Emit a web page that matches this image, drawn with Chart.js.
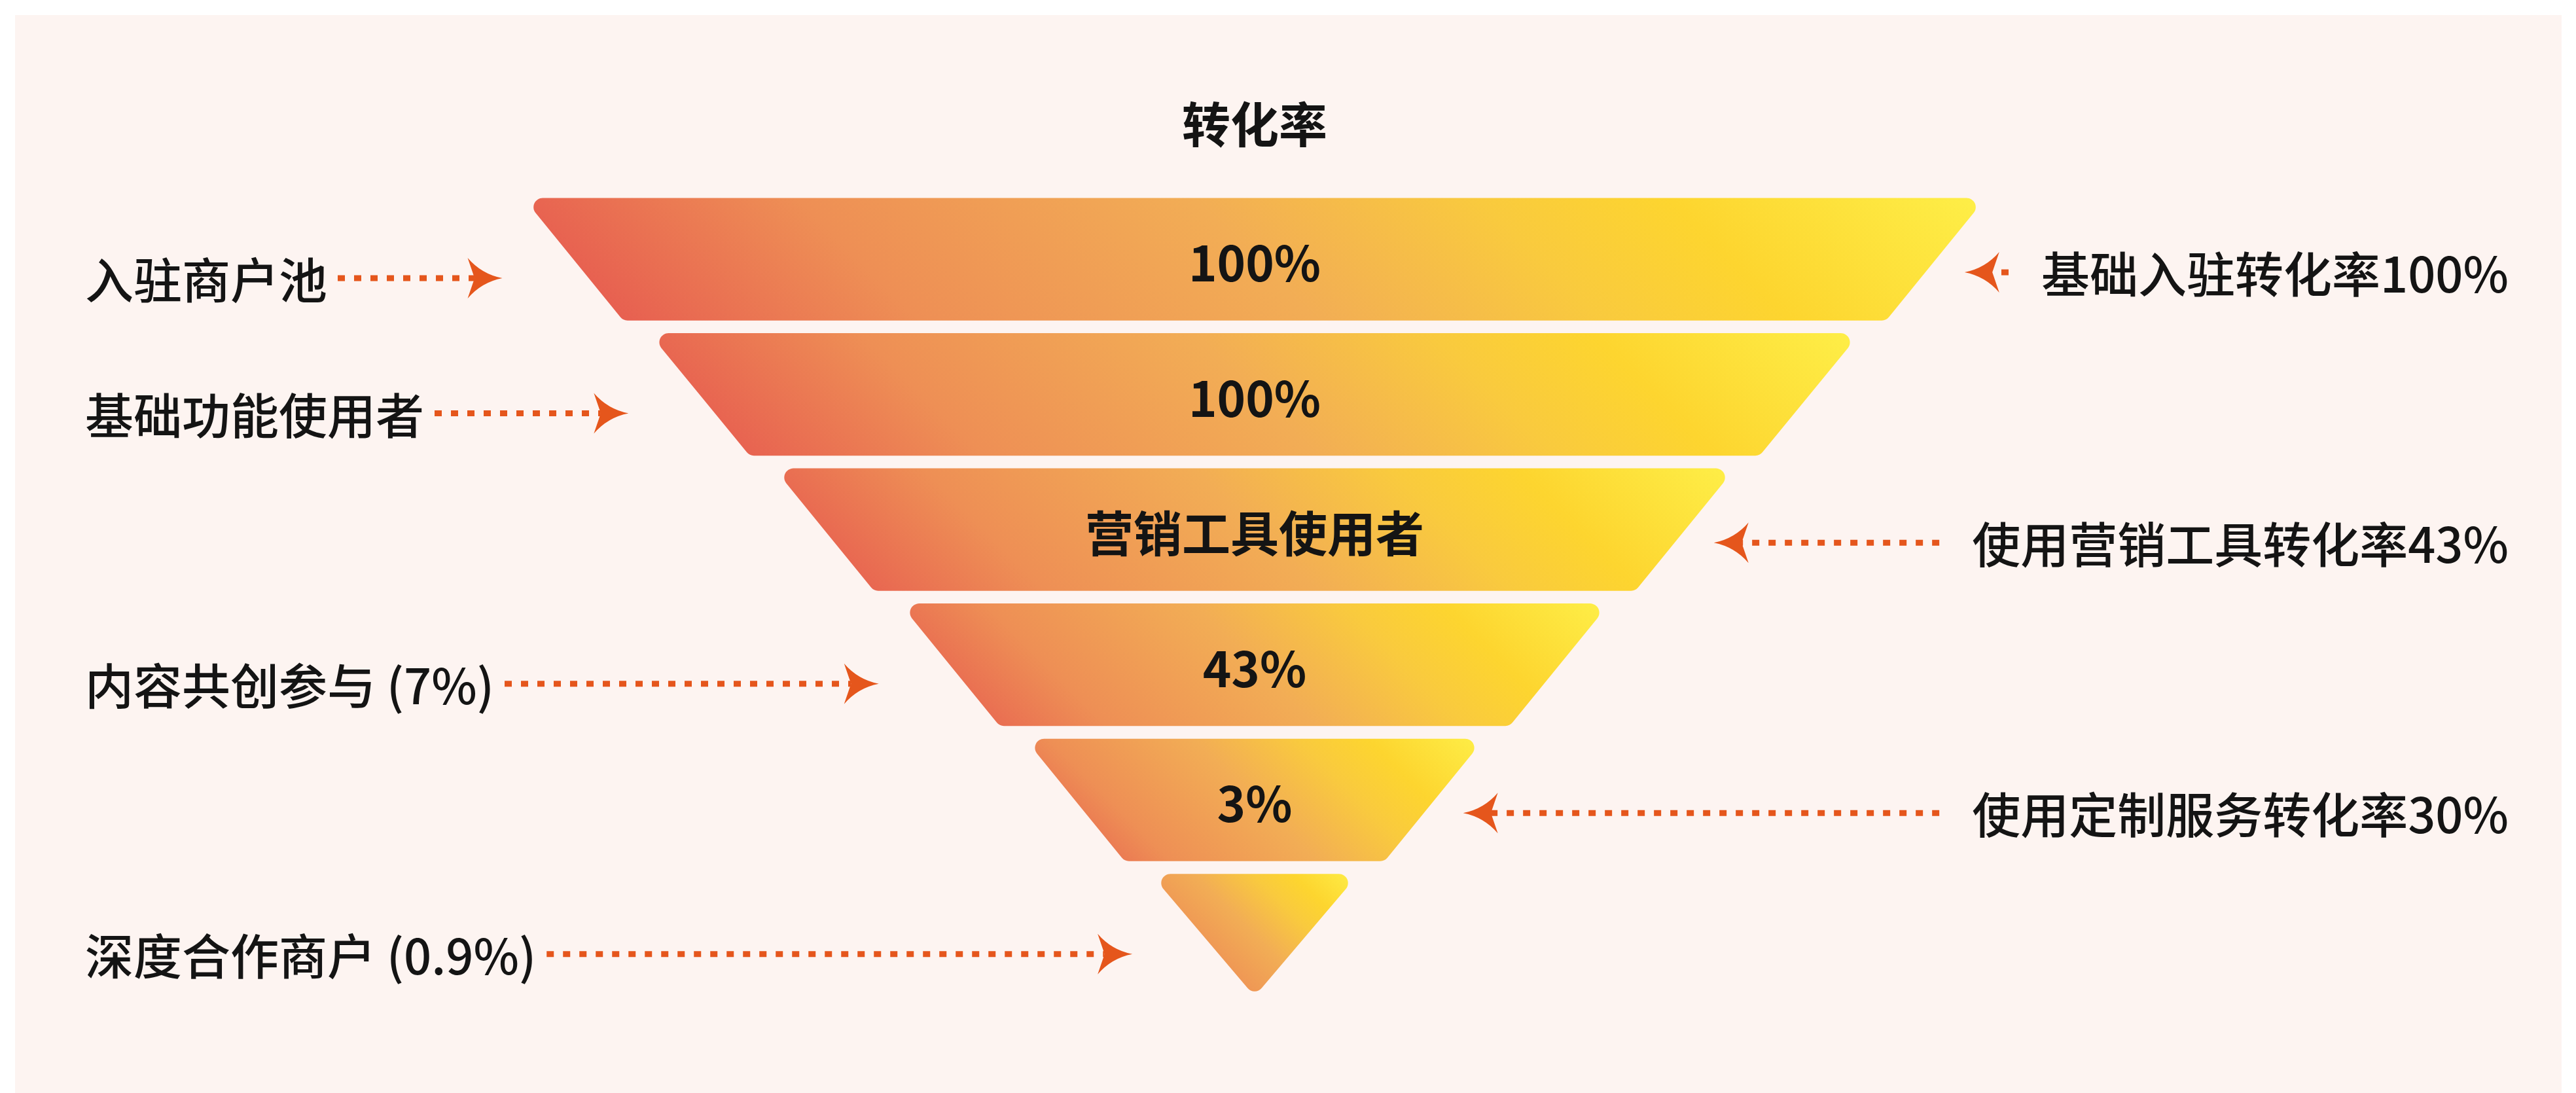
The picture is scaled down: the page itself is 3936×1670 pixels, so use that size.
<!DOCTYPE html>
<html lang="zh-CN">
<head>
<meta charset="utf-8">
<title>转化率</title>
<script src="https://cdn.jsdelivr.net/npm/chart.js@4.4.1/dist/chart.umd.min.js"></script>
<style>
    html, body { margin: 0; padding: 0; background: #ffffff; }
    .painel { position: absolute; left: 23px; top: 23px; right: 22px; bottom: 0; background: #fdf4f1; }
    .grafico { position: absolute; left: 0; top: 0; width: 3936px; height: 1670px; }
</style>
</head>
<body>
<div class="painel"></div>
<div class="grafico"><canvas id="graficoFunil"></canvas></div>
<script>
// Funnel layers, top to bottom
const segmentText = ['100%', '100%', '营销工具使用者', '43%', '3%', ''];
const topWidth = [101.2, 83.8, 66.5, 49.1, 31.8, 14.4];
const bottomWidth = [87.4, 69.9, 52.7, 35.3, 18.0, 0];

// Side notes and the layer each one points at
const leftNotes = ['入驻商户池', '基础功能使用者', '内容共创参与 (7%)', '深度合作商户 (0.9%)'];
const leftNoteRows = [0, 1, 3, 5];
const rightNotes = ['基础入驻转化率100%', '使用营销工具转化率43%', '使用定制服务转化率30%'];
const rightNoteRows = [0, 2, 4];

const FONTE = '"Noto Sans CJK SC", "Noto Sans", sans-serif';
const COR_TEXTO = '#141414';
const COR_SETA = '#e5561c';

// rounded polygon through the given corners
function caminhoArredondado(ctx, pts, r) {
    const n = pts.length;
    const a = pts[n - 1], b = pts[0];
    ctx.beginPath();
    ctx.moveTo((a.x + b.x) / 2, (a.y + b.y) / 2);
    for (let k = 0; k < n; k++) {
        const p = pts[k], q = pts[(k + 1) % n];
        ctx.arcTo(p.x, p.y, q.x, q.y, r);
    }
    ctx.closePath();
}

// dotted line ending in a notched arrow head at (tip, y)
function seta(ctx, from, tip, y) {
    const dir = Math.sign(tip - from);
    const L = 53, H = 62;
    ctx.save();
    ctx.strokeStyle = COR_SETA;
    ctx.lineWidth = 9;
    ctx.setLineDash([11, 14]);
    ctx.beginPath();
    ctx.moveTo(from, y);
    ctx.lineTo(tip - dir * L * 0.8, y);
    ctx.stroke();
    ctx.setLineDash([]);
    ctx.fillStyle = COR_SETA;
    ctx.beginPath();
    ctx.moveTo(tip, y);
    ctx.quadraticCurveTo(tip - dir * L * 0.6, y - H * 0.1, tip - dir * L, y - H / 2);
    ctx.lineTo(tip - dir * L * 0.8, y);
    ctx.lineTo(tip - dir * L, y + H / 2);
    ctx.quadraticCurveTo(tip - dir * L * 0.6, y + H * 0.1, tip, y);
    ctx.fill();
    ctx.restore();
}

// x of the funnel edge (side = -1 left, +1 right) at height y within layer i
function bordaFunil(chart, i, y, side) {
    const xs = chart.scales.x;
    const el = chart.getDatasetMeta(0).data[i];
    const { y: cy, height } = el.getProps(['y', 'height'], true);
    const top = cy - height / 2;
    const t = Math.min(Math.max((y - top) / height, 0), 1);
    const w = topWidth[i] + (bottomWidth[i] - topWidth[i]) * t;
    return xs.getPixelForValue(side * w / 2);
}

const funilPlugin = {
    id: 'funil',
    afterDatasetsDraw(chart) {
        const ctx = chart.ctx;
        const xs = chart.scales.x;
        const meta = chart.getDatasetMeta(0);
        meta.data.forEach((el, i) => {
            const { x, base, y, height } = el.getProps(['x', 'base', 'y', 'height'], true);
            const top = y - height / 2, bottom = y + height / 2;
            const tl = Math.min(x, base), tr = Math.max(x, base);
            const bl = xs.getPixelForValue(-bottomWidth[i] / 2);
            const br = xs.getPixelForValue(bottomWidth[i] / 2);
            const pts = bottomWidth[i] > 0
                ? [{ x: tl, y: top }, { x: tr, y: top }, { x: br, y: bottom }, { x: bl, y: bottom }]
                : [{ x: tl, y: top }, { x: tr, y: top }, { x: (bl + br) / 2, y: bottom }];

            // 45 degree gradient, red at lower left to yellow at upper right
            const d = ((tr - tl) + height) / 2;
            const g = ctx.createLinearGradient(tl, bottom, tl + d, bottom - d);
            g.addColorStop(0, '#e5504f');
            g.addColorStop(0.25, '#ee8f55');
            g.addColorStop(0.5, '#f2ad55');
            g.addColorStop(0.68, '#f9ca3e');
            g.addColorStop(0.8, '#fdd52f');
            g.addColorStop(1, '#feef48');

            ctx.save();
            caminhoArredondado(ctx, pts, 14);
            ctx.fillStyle = g;
            ctx.fill();

            if (segmentText[i]) {
                ctx.fillStyle = COR_TEXTO;
                ctx.font = 'bold 74px ' + FONTE;
                ctx.textAlign = 'center';
                ctx.textBaseline = 'middle';
                ctx.fillText(segmentText[i], (tl + tr) / 2, y + 6);
            }
            ctx.restore();
        });
    },
    afterDraw(chart) {
        const ctx = chart.ctx;
        const meta = chart.getDatasetMeta(0);
        ctx.save();
        ctx.font = '500 74px ' + FONTE;
        ctx.fillStyle = COR_TEXTO;
        ctx.textBaseline = 'middle';

        leftNotes.forEach((txt, k) => {
            const row = leftNoteRows[k];
            const y = meta.data[row].y + 29;
            ctx.textAlign = 'left';
            ctx.fillText(txt, 130, y + 3);
            const fim = 130 + ctx.measureText(txt).width + 16;
            const tip = bordaFunil(chart, row, y, -1) - 132;
            seta(ctx, fim, tip, y);
        });

        rightNotes.forEach((txt, k) => {
            const row = rightNoteRows[k];
            const y = meta.data[row].y + 20;
            ctx.textAlign = 'right';
            ctx.fillText(txt, 3833, y + 3);
            const inicio = 3833 - ctx.measureText(txt).width - 50;
            const tip = bordaFunil(chart, row, y, 1) + 60;
            seta(ctx, inicio, tip, y);
        });
        ctx.restore();
    }
};

document.addEventListener('DOMContentLoaded', function () {
    const ctx = document.getElementById('graficoFunil');
    if (!ctx) return;

    new Chart(ctx.getContext('2d'), {
        type: 'bar',
        data: {
            labels: segmentText,
            datasets: [{
                label: '转化率',
                data: topWidth.map(w => [-w / 2, w / 2]),
                backgroundColor: 'rgba(0, 0, 0, 0)',
                borderWidth: 0,
                barPercentage: 0.906,
                categoryPercentage: 1.0
            }]
        },
        options: {
            indexAxis: 'y',
            responsive: true,
            maintainAspectRatio: false,
            animation: false,
            layout: {
                padding: { top: 0, left: 813, right: 915, bottom: 138 }
            },
            plugins: {
                legend: { display: false },
                tooltip: { enabled: false },
                title: {
                    display: true,
                    text: '转化率',
                    color: COR_TEXTO,
                    font: { family: FONTE, size: 74, weight: 'bold' },
                    padding: { top: 145, bottom: 59 }
                }
            },
            scales: {
                x: { display: false, min: -50, max: 50 },
                y: { display: false }
            }
        },
        plugins: [funilPlugin]
    });
});
</script>
</body>
</html>
